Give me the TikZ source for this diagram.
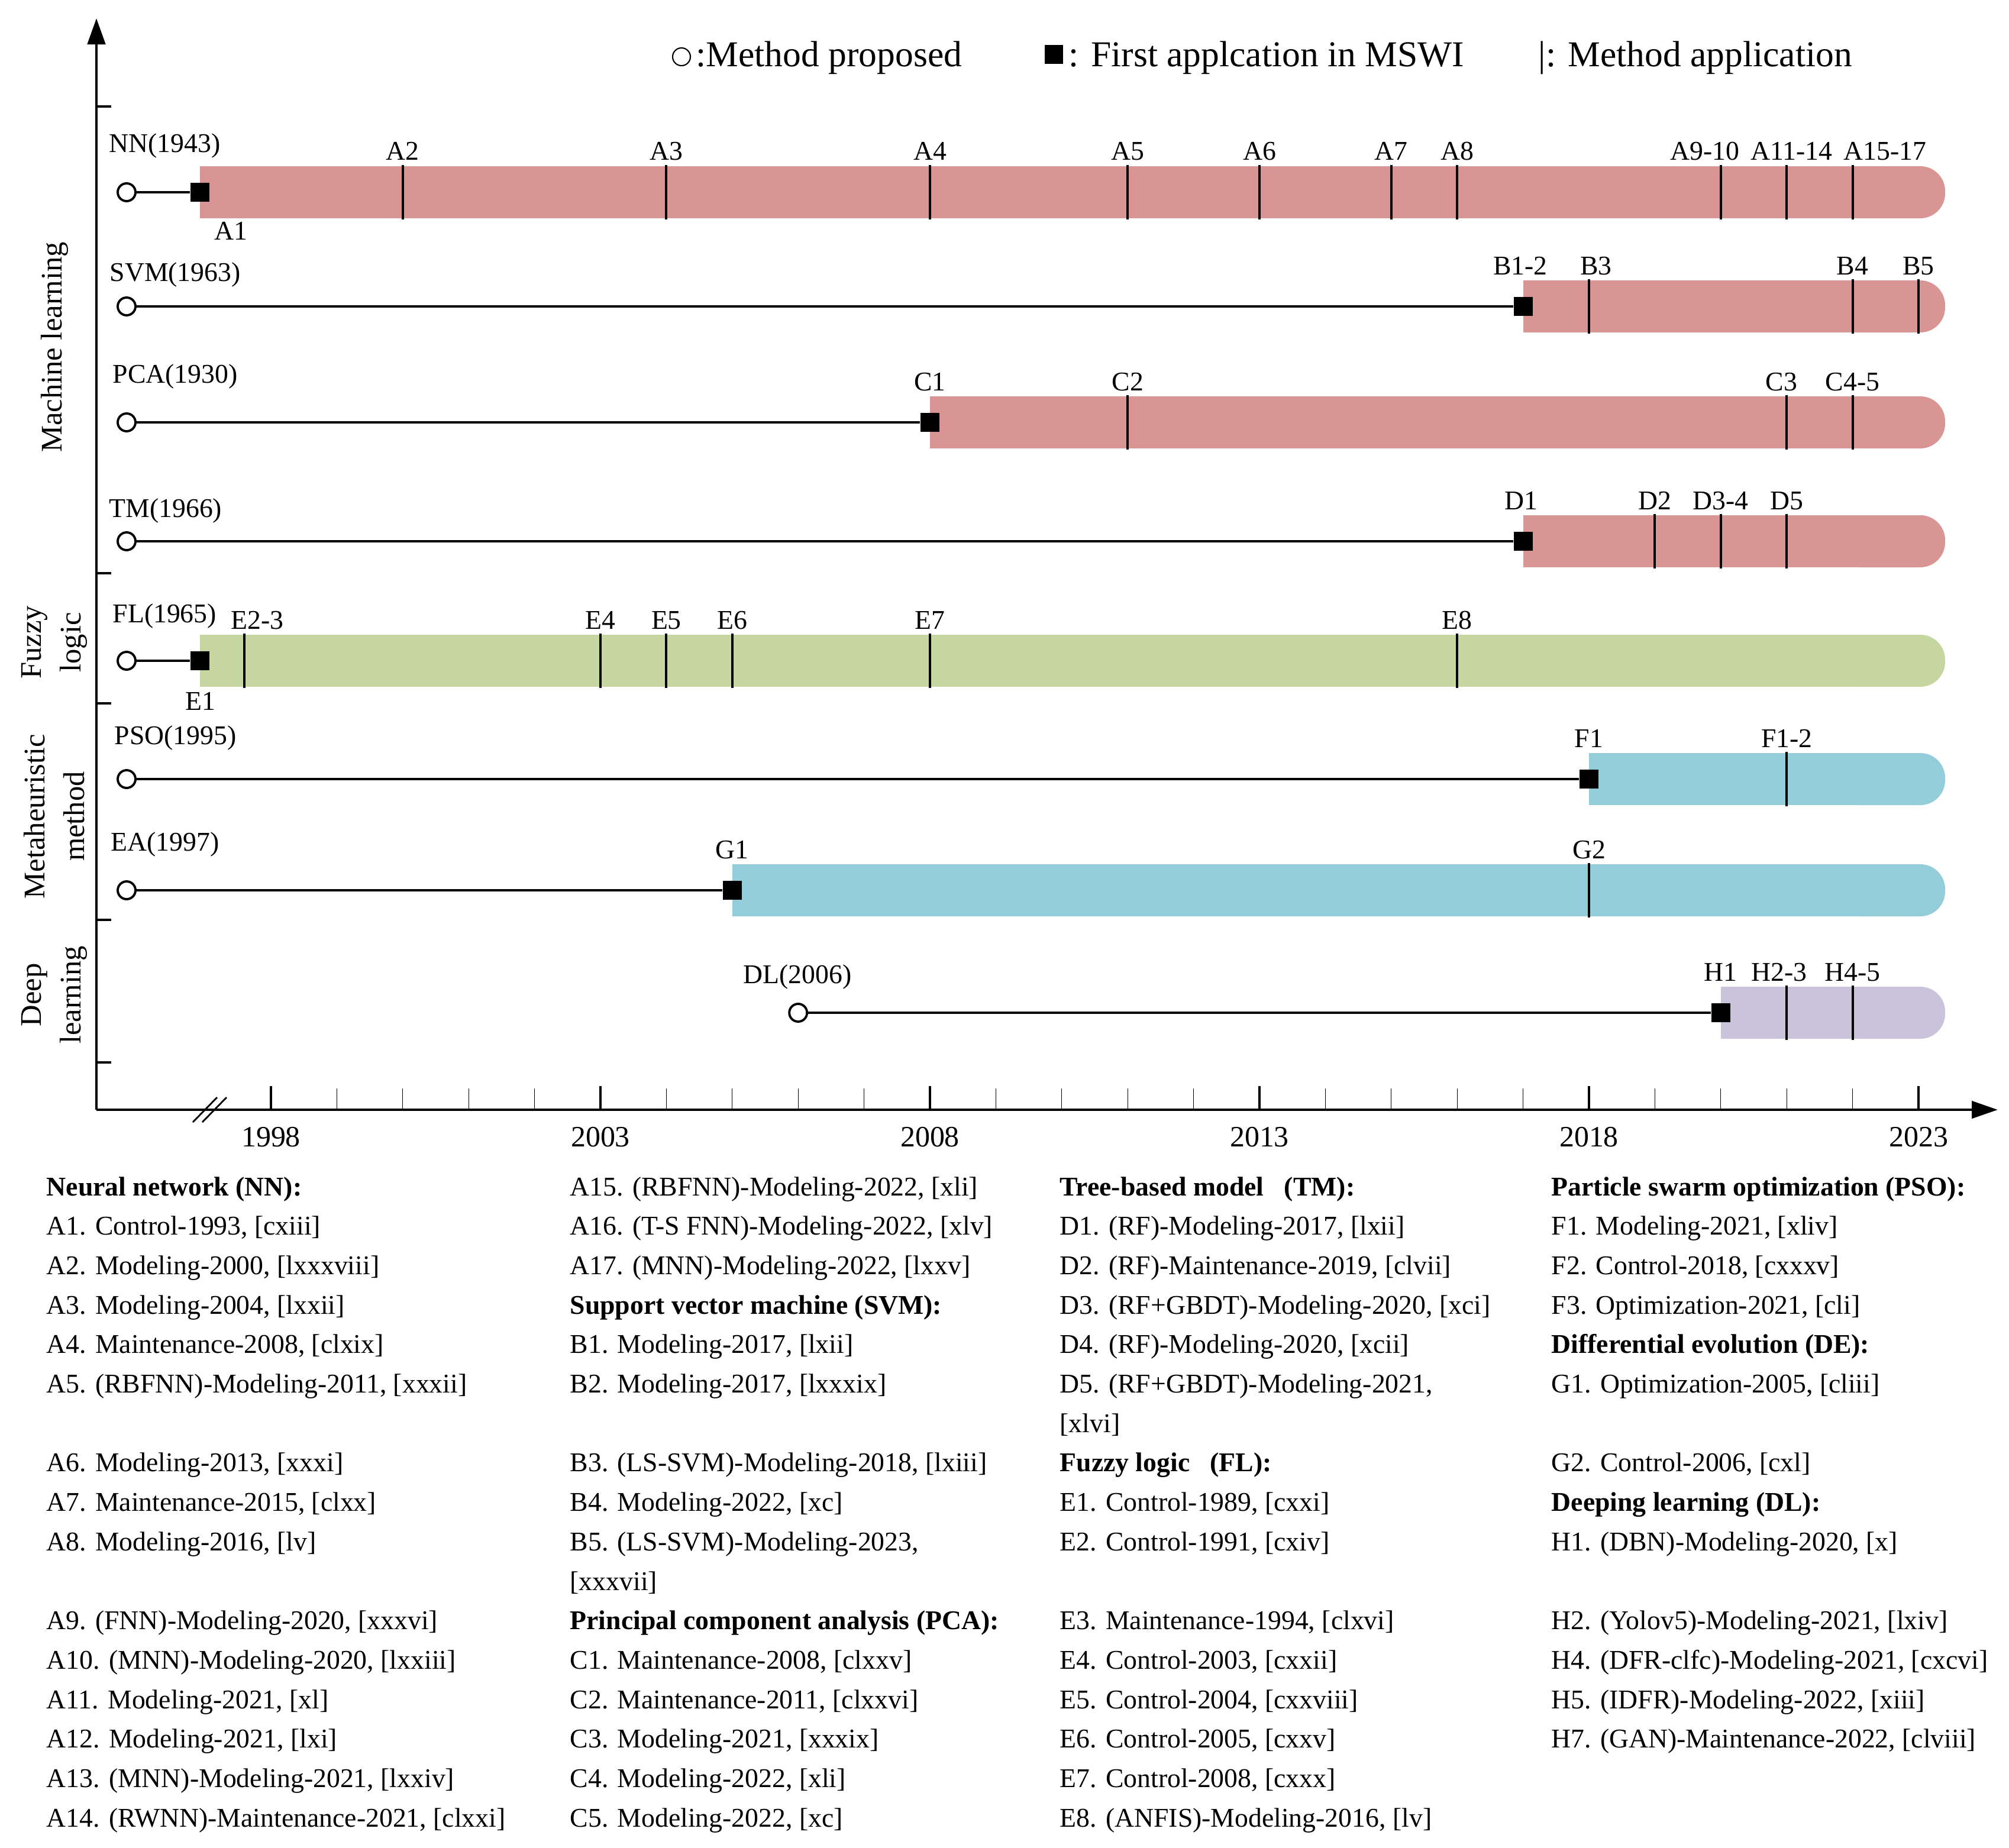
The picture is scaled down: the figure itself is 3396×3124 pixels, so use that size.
\documentclass[tikz,border=0pt]{standalone}
\usepackage{fontspec}
\setmainfont{Liberation Serif}
\usetikzlibrary{arrows.meta,positioning}

\definecolor{mlpink}{RGB}{216,149,147}
\definecolor{flgreen}{RGB}{197,214,160}
\definecolor{mhblue}{RGB}{147,205,218}
\definecolor{dlpurple}{RGB}{203,194,219}

% x position (px) of a year on the time axis
\newcommand{\yr}[1]{458+111.4*(#1-1998)}
% coloured application bar: colour, left x, row y
\newcommand{\appbar}[3]{%
  \fill[#1] ({#2},{#3-44}) rectangle (3200,{#3+44});
  \fill[#1,rounded corners=0.42cm] (3100,{#3-44}) rectangle (3288,{#3+44});}

\begin{document}
\begin{tikzpicture}[x=0.01cm,y=-0.01cm,
  axis/.style={line width=1.4pt},
  link/.style={line width=0.9pt},
  proposed/.style={circle,draw,line width=1.1pt,fill=white,inner sep=0pt,minimum size=0.3cm},
  firstuse/.style={rectangle,fill=black,inner sep=0pt,minimum size=0.32cm},
  apptick/.style={line width=1.1pt},
  applab/.style={anchor=base,inner sep=0pt,font=\fontsize{13}{15}\selectfont},
  methlab/.style={anchor=base west,inner sep=0pt,font=\fontsize{13}{15}\selectfont},
  yearlab/.style={inner sep=0pt,font=\fontsize{14.2}{16}\selectfont},
  grouplab/.style={rotate=90,align=center,inner sep=0pt,font=\fontsize{14.4}{19}\selectfont},
  keytxt/.style={anchor=base west,inner sep=0pt,font=\fontsize{17.5}{20}\selectfont},
  listtxt/.style={anchor=base west,inner sep=0pt,font=\fontsize{13}{15}\selectfont}]

\useasboundingbox (0,0) rectangle (3396,3124);

% key
\node[proposed,line width=0.6pt,minimum size=0.3cm] (keyP) at (1152,96) {};
\node[keytxt] (keyPt) at (1176,113) {:Method proposed};
\node[firstuse,minimum size=0.31cm] (keyF) at (1781,92) {};
\node[keytxt] (keyFt) at (1806,113) {: First applcation in MSWI};
\node[keytxt] (keyT) at (2600,113) {|: Method application};

% axes
\coordinate (O) at (163,1876);
\coordinate (xend) at (3377,1876);
\coordinate (yend) at (163,31);
\draw[axis,-{Triangle[length=0.44cm,width=0.29cm]}] (O) -- (xend);
\draw[axis,-{Triangle[length=0.44cm,width=0.30cm]}] (O) -- (yend);
\foreach \y in {180,969,1189,1555,1796}
  \draw[axis] (163,\y) -- (188,\y);
\foreach \t in {1998,2003,...,2023}{
  \draw[apptick] ({\yr{\t}},1876) -- ({\yr{\t}},1836);
  \node[yearlab] (yr\t) at ({\yr{\t}},1922) {\t};}
\foreach \t in {1999,2000,2001,2002,2004,2005,2006,2007,2009,2010,2011,2012,
                2014,2015,2016,2017,2019,2020,2021,2022}
  \draw[line width=0.3pt] ({\yr{\t}},1876) -- ({\yr{\t}},1840);
\draw[line width=0.8pt] (326,1897) -- (367,1855);
\draw[line width=0.8pt] (342,1897) -- (383,1855);

% group labels
\node[grouplab] (gML) at (92,587) {Machine learning};
\node[grouplab] (gFL) at (92,1086) {Fuzzy\\logic};
\node[grouplab] (gMH) at (92,1380) {Metaheuristic\\method};
\node[grouplab] (gDL) at (92,1682) {Deep\\learning};

% NN
\appbar{mlpink}{338}{325}
\foreach \t/\dx/\l in {2000/0/A2,2004/0/A3,2008/0/A4,2011/0/A5,2013/0/A6,2015/0/A7,
                       2016/0/A8,2020/-27/A9-10,2021/8/A11-14,2022/55/A15-17}{
  \draw[apptick] ({\yr{\t}},279) -- ({\yr{\t}},371);
  \node[applab] (nn\t) at ({\yr{\t}+\dx},271) {\l};}
\node[proposed] (nnP) at (214,325) {};
\node[firstuse] (nnF) at (338,325) {};
\draw[link] (nnP) -- (nnF);
\node[methlab] (nnL) at (184,258) {NN(1943)};
\node[applab] (nnA1) at (390,406) {A1};

% SVM
\appbar{mlpink}{\yr{2017}}{518}
\foreach \t/\dx/\l in {2018/12/B3,2022/0/B4,2023/0/B5}{
  \draw[apptick] ({\yr{\t}},472) -- ({\yr{\t}},564);
  \node[applab] (svm\t) at ({\yr{\t}+\dx},464) {\l};}
\node[proposed] (svmP) at (214,518) {};
\node[firstuse] (svmF) at ({\yr{2017}},518) {};
\draw[link] (svmP) -- (svmF);
\node[methlab] (svmL) at (185,475) {SVM(1963)};
\node[applab] (svmB1) at (2570,464) {B1-2};

% PCA
\appbar{mlpink}{\yr{2008}}{714}
\foreach \t/\dx/\l in {2011/0/C2,2021/-9/C3,2022/0/C4-5}{
  \draw[apptick] ({\yr{\t}},668) -- ({\yr{\t}},760);
  \node[applab] (pca\t) at ({\yr{\t}+\dx},660) {\l};}
\node[proposed] (pcaP) at (214,714) {};
\node[firstuse] (pcaF) at ({\yr{2008}},714) {};
\draw[link] (pcaP) -- (pcaF);
\node[methlab] (pcaL) at (190,647) {PCA(1930)};
\node[applab] (pcaC1) at ({\yr{2008}},660) {C1};

% TM
\appbar{mlpink}{\yr{2017}}{915}
\foreach \t/\dx/\l in {2019/0/D2,2020/0/D3-4,2021/0/D5}{
  \draw[apptick] ({\yr{\t}},869) -- ({\yr{\t}},961);
  \node[applab] (tm\t) at ({\yr{\t}+\dx},861) {\l};}
\node[proposed] (tmP) at (214,915) {};
\node[firstuse] (tmF) at ({\yr{2017}},915) {};
\draw[link] (tmP) -- (tmF);
\node[methlab] (tmL) at (184,874) {TM(1966)};
\node[applab] (tmD1) at (2571,861) {D1};

% FL
\appbar{flgreen}{338}{1117}
\draw[apptick] (413,1071) -- (413,1163);
\node[applab] (flE2) at (435,1063) {E2-3};
\foreach \t/\dx/\l in {2003/0/E4,2004/0/E5,2005/0/E6,2008/0/E7,2016/0/E8}{
  \draw[apptick] ({\yr{\t}},1071) -- ({\yr{\t}},1163);
  \node[applab] (fl\t) at ({\yr{\t}+\dx},1063) {\l};}
\node[proposed] (flP) at (214,1117) {};
\node[firstuse] (flF) at (338,1117) {};
\draw[link] (flP) -- (flF);
\node[methlab] (flL) at (190,1052) {FL(1965)};
\node[applab] (flE1) at (339,1200) {E1};

% PSO
\appbar{mhblue}{\yr{2018}}{1317}
\draw[apptick] ({\yr{2021}},1271) -- ({\yr{2021}},1363);
\node[applab] (psoF2) at ({\yr{2021}},1263) {F1-2};
\node[proposed] (psoP) at (214,1317) {};
\node[firstuse] (psoF) at ({\yr{2018}},1317) {};
\draw[link] (psoP) -- (psoF);
\node[methlab] (psoL) at (193,1258) {PSO(1995)};
\node[applab] (psoF1) at ({\yr{2018}},1263) {F1};

% EA
\appbar{mhblue}{\yr{2005}}{1505}
\draw[apptick] ({\yr{2018}},1459) -- ({\yr{2018}},1551);
\node[applab] (eaG2) at ({\yr{2018}},1451) {G2};
\node[proposed] (eaP) at (214,1505) {};
\node[firstuse] (eaF) at ({\yr{2005}},1505) {};
\draw[link] (eaP) -- (eaF);
\node[methlab] (eaL) at (187,1438) {EA(1997)};
\node[applab] (eaG1) at ({\yr{2005}},1451) {G1};

% DL
\appbar{dlpurple}{\yr{2020}}{1712}
\foreach \t/\dx/\l in {2021/-13/H2-3,2022/0/H4-5}{
  \draw[apptick] ({\yr{\t}},1666) -- ({\yr{\t}},1758);
  \node[applab] (dl\t) at ({\yr{\t}+\dx},1658) {\l};}
\node[proposed] (dlP) at ({\yr{2006}},1712) {};
\node[firstuse] (dlF) at ({\yr{2020}},1712) {};
\draw[link] (dlP) -- (dlF);
\node[methlab] (dlL) at (1256,1662) {DL(2006)};
\node[applab] (dlH1) at ({\yr{2020}},1658) {H1};

% reference list
\foreach \r/\txt in {0/{\textbf{Neural network (NN):}},1/{A1. Control-1993, [cxiii]},
    2/{A2. Modeling-2000, [lxxxviii]},3/{A3. Modeling-2004, [lxxii]},
    4/{A4. Maintenance-2008, [clxix]},5/{A5. (RBFNN)-Modeling-2011, [xxxii]},
    7/{A6. Modeling-2013, [xxxi]},8/{A7. Maintenance-2015, [clxx]},
    9/{A8. Modeling-2016, [lv]},11/{A9. (FNN)-Modeling-2020, [xxxvi]},
    12/{A10. (MNN)-Modeling-2020, [lxxiii]},13/{A11. Modeling-2021, [xl]},
    14/{A12. Modeling-2021, [lxi]},15/{A13. (MNN)-Modeling-2021, [lxxiv]},
    16/{A14. (RWNN)-Maintenance-2021, [clxxi]}}
  \node[listtxt] (ca\r) at (78,2021+66.7*\r) {\txt};
\foreach \r/\txt in {0/{A15. (RBFNN)-Modeling-2022, [xli]},1/{A16. (T-S FNN)-Modeling-2022, [xlv]},
    2/{A17. (MNN)-Modeling-2022, [lxxv]},3/{\textbf{Support vector machine (SVM):}},
    4/{B1. Modeling-2017, [lxii]},5/{B2. Modeling-2017, [lxxxix]},
    7/{B3. (LS-SVM)-Modeling-2018, [lxiii]},8/{B4. Modeling-2022, [xc]},
    9/{B5. (LS-SVM)-Modeling-2023,},10/{[xxxvii]},
    11/{\textbf{Principal component analysis (PCA):}},12/{C1. Maintenance-2008, [clxxv]},
    13/{C2. Maintenance-2011, [clxxvi]},14/{C3. Modeling-2021, [xxxix]},
    15/{C4. Modeling-2022, [xli]},16/{C5. Modeling-2022, [xc]}}
  \node[listtxt] (cb\r) at (963,2021+66.7*\r) {\txt};
\foreach \r/\txt in {0/{\textbf{Tree-based model~~~(TM):}},1/{D1. (RF)-Modeling-2017, [lxii]},
    2/{D2. (RF)-Maintenance-2019, [clvii]},3/{D3. (RF+GBDT)-Modeling-2020, [xci]},
    4/{D4. (RF)-Modeling-2020, [xcii]},5/{D5. (RF+GBDT)-Modeling-2021,},
    6/{[xlvi]},7/{\textbf{Fuzzy logic~~~(FL):}},8/{E1. Control-1989, [cxxi]},
    9/{E2. Control-1991, [cxiv]},11/{E3. Maintenance-1994, [clxvi]},
    12/{E4. Control-2003, [cxxii]},13/{E5. Control-2004, [cxxviii]},
    14/{E6. Control-2005, [cxxv]},15/{E7. Control-2008, [cxxx]},
    16/{E8. (ANFIS)-Modeling-2016, [lv]}}
  \node[listtxt] (cc\r) at (1791,2021+66.7*\r) {\txt};
\foreach \r/\txt in {0/{\textbf{Particle swarm optimization (PSO):}},1/{F1. Modeling-2021, [xliv]},
    2/{F2. Control-2018, [cxxxv]},3/{F3. Optimization-2021, [cli]},
    4/{\textbf{Differential evolution (DE):}},5/{G1. Optimization-2005, [cliii]},
    7/{G2. Control-2006, [cxl]},8/{\textbf{Deeping learning (DL):}},
    9/{H1. (DBN)-Modeling-2020, [x]},11/{H2. (Yolov5)-Modeling-2021, [lxiv]},
    12/{H4. (DFR-clfc)-Modeling-2021, [cxcvi]},13/{H5. (IDFR)-Modeling-2022, [xiii]},
    14/{H7. (GAN)-Maintenance-2022, [clviii]}}
  \node[listtxt] (cd\r) at (2622,2021+66.7*\r) {\txt};
\end{tikzpicture}
\end{document}
